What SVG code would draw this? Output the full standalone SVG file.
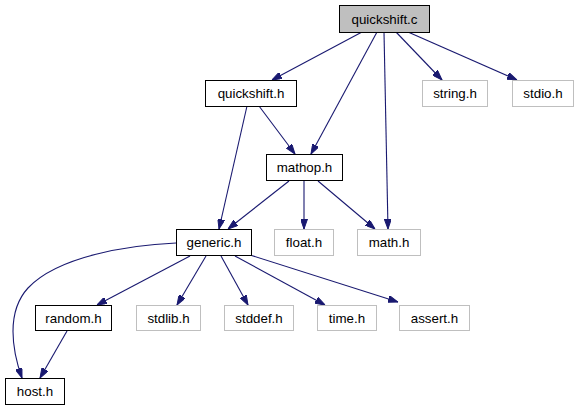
<svg xmlns="http://www.w3.org/2000/svg" width="579" height="411" viewBox="0 0 579 411">
<style>
.n rect{fill:#ffffff;stroke:#000000;stroke-width:1}
.g rect{fill:#ffffff;stroke:#bfbfbf;stroke-width:1}
.root rect{fill:#bfbfbf;stroke:#000000;stroke-width:1}
text{font-family:"Liberation Sans",Arial,Helvetica,sans-serif;font-size:13.33px;fill:#000000;text-anchor:middle}
.e path{fill:none;stroke:#191970;stroke-width:1.1;marker-end:url(#ah)}
</style>
<defs>
<marker id="ah" viewBox="0 0 10 7" refX="10" refY="3.5" markerWidth="10" markerHeight="7" markerUnits="userSpaceOnUse" orient="auto">
<path d="M0,0 L10,3.5 L0,7 z" fill="#191970" stroke="#191970" stroke-width="1"/>
</marker>
</defs>
<rect width="579" height="411" fill="#ffffff"/>
<g id="edges" class="e">
<path d="M362,32 L272,80"/>
<path d="M377,32 L311,154"/>
<path d="M384,32 L388,229"/>
<path d="M396,32 L442,80"/>
<path d="M408,32 L517,80"/>
<path d="M247,106 L219,229"/>
<path d="M259,106 L295,154"/>
<path d="M289,181 L228,229"/>
<path d="M304,181 L304,229"/>
<path d="M318,181 L375,229"/>
<path d="M190,256 L97,305"/>
<path d="M206,256 L177,305"/>
<path d="M221,256 L248,305"/>
<path d="M235,256 L325,305"/>
<path d="M250,255 L398,302"/>
<path d="M176,243 C130,245 58,256 28,288 C6,312 12,350 22,378"/>
<path d="M67,331 L40,378"/>
</g>
<g id="quickshift_c" class="root"><rect x="339.5" y="5.5" width="90" height="27"/><text x="384.5" y="23.5">quickshift.c</text></g>
<g id="quickshift_h" class="n"><rect x="205.5" y="80.5" width="91" height="26"/><text x="251" y="98">quickshift.h</text></g>
<g id="string_h" class="g"><rect x="422.5" y="80.5" width="65" height="26"/><text x="455" y="98">string.h</text></g>
<g id="stdio_h" class="g"><rect x="512.5" y="80.5" width="61" height="26"/><text x="543" y="98">stdio.h</text></g>
<g id="mathop_h" class="n"><rect x="266.5" y="154.5" width="76" height="26"/><text x="304.5" y="172">mathop.h</text></g>
<g id="generic_h" class="n"><rect x="176.5" y="229.5" width="75" height="26"/><text x="214" y="247">generic.h</text></g>
<g id="float_h" class="g"><rect x="274.5" y="229.5" width="59" height="26"/><text x="304" y="247">float.h</text></g>
<g id="math_h" class="g"><rect x="357.5" y="229.5" width="63" height="26"/><text x="389" y="247">math.h</text></g>
<g id="random_h" class="n"><rect x="35.5" y="305.5" width="76" height="25"/><text x="73.5" y="322.5">random.h</text></g>
<g id="stdlib_h" class="g"><rect x="136.5" y="305.5" width="64" height="25"/><text x="168.5" y="322.5">stdlib.h</text></g>
<g id="stddef_h" class="g"><rect x="224.5" y="305.5" width="69" height="25"/><text x="259" y="322.5">stddef.h</text></g>
<g id="time_h" class="g"><rect x="317.5" y="305.5" width="59" height="25"/><text x="347" y="322.5">time.h</text></g>
<g id="assert_h" class="g"><rect x="399.5" y="305.5" width="70" height="25"/><text x="434.5" y="322.5">assert.h</text></g>
<g id="host_h" class="n"><rect x="5.5" y="378.5" width="59" height="26"/><text x="35" y="396">host.h</text></g>
</svg>
